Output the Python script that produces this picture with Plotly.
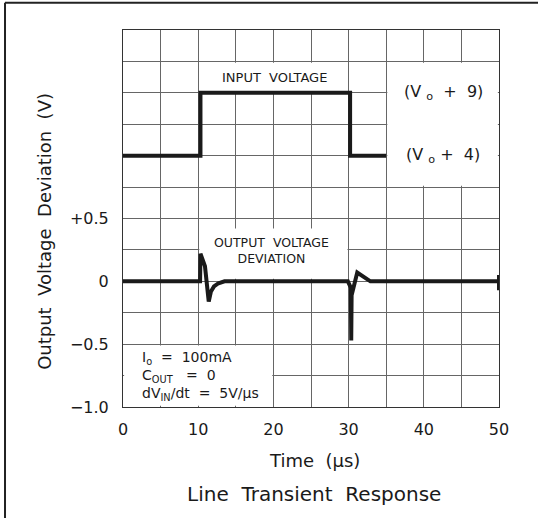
import plotly.graph_objects as go

# ---------------- data ----------------
input_t = [0, 10.3, 10.3, 30.2, 30.2, 35]
input_v = [1.0, 1.0, 1.5, 1.5, 1.0, 1.0]

output_t = [0, 10.25, 10.3, 10.9, 11.4, 11.45, 11.7, 12.1, 12.7, 13.5,
            29.9, 30.3, 30.35, 30.4, 31.15, 32.9, 50, 50, 50]
output_v = [0, 0, 0.22, 0.12, -0.16, -0.14, -0.08, -0.04, -0.015, 0,
            0, -0.05, -0.47, -0.11, 0.07, 0, 0, 0.05, -0.07]

x_tick_vals = [0, 5, 10, 15, 20, 25, 30, 35, 40, 45, 50]
x_tick_text = ["0", "", "10", "", "20", "", "30", "", "40", "", "50"]
y_tick_vals = [-1.0, -0.75, -0.5, -0.25, 0, 0.25, 0.5, 0.75, 1.0, 1.25, 1.5, 1.75, 2.0]
y_tick_text = ["\u22121.0", "", "\u22120.5", "", "0", "", "+0.5", "", "", "", "", "", ""]

FONT = "DejaVu Sans"
INK = "#1a1a1a"
GRID = "#666666"

fig = go.Figure()
fig.add_trace(go.Scatter(x=input_t, y=input_v, mode="lines",
                         line=dict(color=INK, width=4), hoverinfo="skip"))
fig.add_trace(go.Scatter(x=output_t, y=output_v, mode="lines",
                         line=dict(color=INK, width=4), hoverinfo="skip"))

# white label boxes that interrupt the grid
dx, dy = 0.15, 0.01
masks = [
    (10 + dx, 30 - dx, 1.5 + dy, 1.75 - dy),
    (35 + dx, 50 - dx, 0.75 + dy, 1.75 - dy),
    (10 + dx, 30 - dx, 0.02, 0.42),
    (0 + dx, 20 - dx, -1.0 + dy, -0.5 - dy),
]
for x0, x1, y0, y1 in masks:
    fig.add_shape(type="rect", xref="x", yref="y", x0=x0, x1=x1, y0=y0, y1=y1,
                  fillcolor="white", line=dict(width=0), layer="between")

# outer frame (left and top)
fig.add_shape(type="line", xref="paper", yref="paper", x0=-0.3138, x1=-0.3138,
              y0=1.0724, y1=-0.31, line=dict(color="#222", width=2))
fig.add_shape(type="line", xref="paper", yref="paper", x0=-0.3138, x1=1.2,
              y0=1.0724, y1=1.0724, line=dict(color="#222", width=2))

ann = [
    dict(x=20.1, y=1.625, xref="x", yref="y", text="INPUT  VOLTAGE", font=dict(size=13)),
    dict(x=42.6, y=1.5, xref="x", yref="y", text="(V <sub>o</sub>  +  9)", font=dict(size=16)),
    dict(x=42.6, y=1.0, xref="x", yref="y", text="(V <sub>o</sub> +  4)", font=dict(size=16)),
    dict(x=19.8, y=0.245, xref="x", yref="y",
         text="OUTPUT  VOLTAGE<br>DEVIATION", font=dict(size=12.5)),
    dict(x=2.2, y=-0.755, xref="x", yref="y", xanchor="left", align="left",
         text="I<sub>o</sub>  =  100mA<br>C<sub>OUT</sub>   =  0<br>dV<sub>IN</sub>/dt  =  5V/\u00b5s",
         font=dict(size=14)),
    dict(x=0.508, y=-0.143, xref="paper", yref="paper", text="Time  (\u00b5s)",
         font=dict(size=18)),
    dict(x=0.508, y=-0.23, xref="paper", yref="paper", text="Line  Transient  Response",
         font=dict(size=20)),
    dict(x=-0.207, y=0.465, xref="paper", yref="paper", textangle=-90,
         text="Output  Voltage  Deviation  (V)", font=dict(size=18)),
]
for a in ann:
    a.setdefault("showarrow", False)
    a.setdefault("xanchor", "center")
    a.setdefault("yanchor", "middle")
    a["font"] = dict(family=FONT, color=INK, **a["font"])
    fig.add_annotation(**a)

fig.update_xaxes(range=[0, 50], tickvals=x_tick_vals, ticktext=x_tick_text,
                 showgrid=True, gridcolor=GRID, gridwidth=1, zeroline=False,
                 showline=True, linecolor="#333", linewidth=1, mirror=True,
                 ticks="", ticklabelstandoff=8,
                 tickfont=dict(family=FONT, size=16, color=INK))
fig.update_yaxes(range=[-1, 2], tickvals=y_tick_vals, ticktext=y_tick_text,
                 showgrid=True, gridcolor=GRID, gridwidth=1, zeroline=False,
                 showline=True, linecolor="#333", linewidth=1, mirror=True,
                 ticks="", ticklabelstandoff=10,
                 tickfont=dict(family=FONT, size=16, color=INK))

fig.update_layout(width=538, height=518, showlegend=False,
                  margin=dict(l=123, r=39, t=30, b=111),
                  paper_bgcolor="white", plot_bgcolor="white")

fig.write_html("out.html", config={"displayModeBar": False})
